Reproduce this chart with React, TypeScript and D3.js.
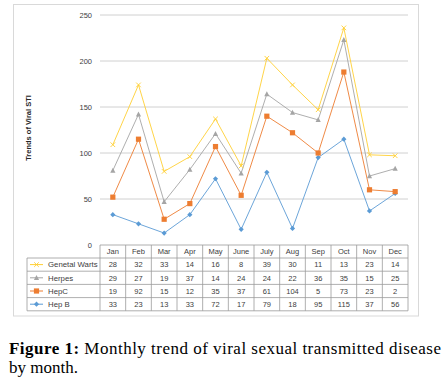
import React from "react";
import * as d3 from "d3";

const months = ["Jan", "Feb", "Mar", "Apr", "May", "June", "July", "Aug", "Sep", "Oct", "Nov", "Dec"];
const hepB = [33, 23, 13, 33, 72, 17, 79, 18, 95, 115, 37, 56];
const hepC = [19, 92, 15, 12, 35, 37, 61, 104, 5, 73, 23, 2];
const herpes = [29, 27, 19, 37, 14, 24, 24, 22, 36, 35, 15, 25];
const warts = [28, 32, 33, 14, 16, 8, 39, 30, 11, 13, 23, 14];
const yTicks = [0, 50, 100, 150, 200, 250];

const series = [
  { key: "hepB", name: "Hep B", values: hepB, color: "#5B9BD5", marker: "diamond" },
  { key: "hepC", name: "HepC", values: hepC, color: "#ED7D31", marker: "square" },
  { key: "herpes", name: "Herpes", values: herpes, color: "#A5A5A5", marker: "triangle" },
  { key: "warts", name: "Genetal Warts", values: warts, color: "#FFCF33", marker: "cross" },
];

function Marker({ type, x, y, color }: { type: string; x: number; y: number; color: string }) {
  if (type === "square") return <rect x={x - 2.6} y={y - 2.6} width={5.2} height={5.2} fill={color} />;
  if (type === "diamond") return <path d={`M${x},${y - 2.6}L${x + 2.6},${y}L${x},${y + 2.6}L${x - 2.6},${y}Z`} fill={color} />;
  if (type === "triangle") return <path d={`M${x},${y - 2.8}L${x + 2.6},${y + 2.2}L${x - 2.6},${y + 2.2}Z`} fill={color} />;
  return (
    <path d={`M${x - 2.3},${y - 2.3}L${x + 2.3},${y + 2.3}M${x - 2.3},${y + 2.3}L${x + 2.3},${y - 2.3}`} stroke={color} strokeWidth={0.9} fill="none" />
  );
}

export default function App() {
  const W = 444, H = 379;
  const left = 100, right = 408, top = 15, bottom = 245;
  const x = d3.scaleBand().domain(months).range([left, right]).padding(0);
  const y = d3.scaleLinear().domain([0, 250]).range([bottom, top]);
  const data = months.map((m, i) => {
    const o: any = { month: m };
    series.forEach((s) => (o[s.key] = s.values[i]));
    return o;
  });
  const stacked = d3.stack().keys(series.map((s) => s.key))(data as any);
  const line = d3
    .line<[number, number]>()
    .x((d) => d[0])
    .y((d) => d[1]);

  const rowH = 13.2;
  const headerTop = bottom;
  const headerBottom = 258;
  const tableRows = [...series].reverse();
  const tableLeft = 27;
  const tableBottom = headerBottom + rowH * 4;
  const font = "'Liberation Sans', Arial, sans-serif";
  const serif = "'Liberation Serif', 'Times New Roman', serif";
  const tableColor = "#9a9a9a";

  return (
    <svg width={W} height={H} style={{ position: "absolute", left: 0, top: 0, background: "#fff" }}>
      <rect x={13.5} y={4.5} width={405} height={311.5} fill="#fff" stroke="#d9d9d9" />
      {yTicks.map((t) => (
        <g key={t}>
          {t > 0 && <line x1={left} x2={right} y1={y(t)} y2={y(t)} stroke="#d0d0d0" strokeWidth={1} />}
          <text x={92} y={y(t) + 2.7} fontSize={7.5} textAnchor="end" fontFamily={font} fill="#404040">
            {t}
          </text>
        </g>
      ))}
      <text
        transform={`translate(31,128) rotate(-90)`}
        fontSize={7.5}
        fontWeight="bold"
        textAnchor="middle"
        fontFamily={font}
        fill="#262626"
      >
        Trends of Viral STI
      </text>
      {stacked.map((layer, li) => {
        const s = series[li];
        const pts: [number, number][] = layer.map((d, i) => [x(months[i])! + x.bandwidth() / 2, y(d[1])]);
        return (
          <g key={s.key}>
            <path d={line(pts) || ""} fill="none" stroke={s.color} strokeWidth={0.9} />
            {pts.map((p, i) => (
              <Marker key={i} type={s.marker} x={p[0]} y={p[1]} color={s.color} />
            ))}
          </g>
        );
      })}
      {/* table */}
      <g stroke={tableColor} strokeWidth={0.8} fill="none">
        <line x1={left} x2={right} y1={headerTop} y2={headerTop} />
        <line x1={tableLeft} x2={right} y1={headerBottom} y2={headerBottom} />
        {tableRows.map((_, i) => (
          <line key={i} x1={tableLeft} x2={right} y1={headerBottom + rowH * (i + 1)} y2={headerBottom + rowH * (i + 1)} />
        ))}
        <line x1={tableLeft} x2={tableLeft} y1={headerBottom} y2={tableBottom} />
        {months.map((m) => (
          <line key={m} x1={x(m)!} x2={x(m)!} y1={headerTop} y2={tableBottom} />
        ))}
        <line x1={right} x2={right} y1={headerTop} y2={tableBottom} />
      </g>
      {months.map((m) => (
        <text
          key={m}
          x={x(m)! + x.bandwidth() / 2}
          y={headerTop + 9.2}
          fontSize={7.5}
          textAnchor="middle"
          fontFamily={font}
          fill="#404040"
        >
          {m}
        </text>
      ))}
      {tableRows.map((s, ri) => {
        const cy = headerBottom + rowH * ri + rowH / 2;
        return (
          <g key={s.key}>
            <line x1={30} x2={43} y1={cy} y2={cy} stroke={s.color} strokeWidth={1} />
            <Marker type={s.marker} x={36.5} y={cy} color={s.color} />
            <text x={48} y={cy + 2.8} fontSize={7.8} fontFamily={font} fill="#404040">
              {s.name}
            </text>
            {s.values.map((v, i) => (
              <text
                key={i}
                x={x(months[i])! + x.bandwidth() / 2}
                y={cy + 2.8}
                fontSize={7.5}
                textAnchor="middle"
                fontFamily={font}
                fill="#404040"
              >
                {v}
              </text>
            ))}
          </g>
        );
      })}
      <text x={9} y={353.5} fontSize={17} fontFamily={serif} fill="#000" textLength={432} lengthAdjust="spacing">
        <tspan fontWeight="bold">Figure 1:</tspan> Monthly trend of viral sexual transmitted disease
      </text>
      <text x={9} y={372.5} fontSize={17} fontFamily={serif} fill="#000">
        by month.
      </text>
    </svg>
  );
}
